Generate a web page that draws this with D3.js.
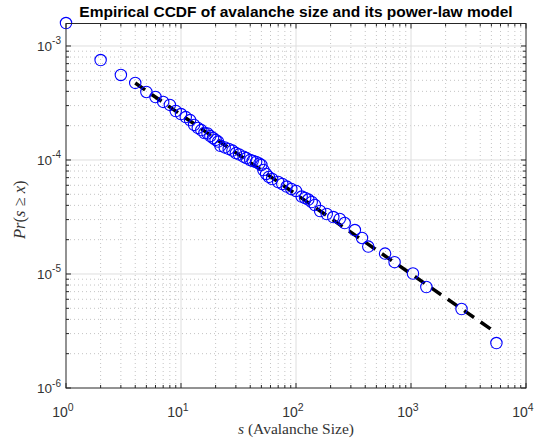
<!DOCTYPE html>
<html lang="en">
<head>
<meta charset="UTF-8">
<title>Empirical CCDF</title>
<script src="https://cdn.jsdelivr.net/npm/d3@7"></script>
<style>
  body { margin: 0; background: #fff; }
  svg { display: block; }
</style>
</head>
<body>
<div id="app"></div>
<script>
// avalanche sizes and empirical CCDF values
var sizes = [1, 2, 3, 4, 5, 6, 7, 8, 9, 10, 11, 12, 13, 14, 15, 16, 17, 18, 19, 20,
  21, 22, 24, 26, 28, 30, 32, 35, 37, 40, 42, 45, 48, 50, 52, 55, 58, 62, 70, 76,
  83, 91, 100, 112, 120, 128, 137, 146, 162, 185, 211, 240, 265, 325, 375, 425,
  595, 720, 1040, 1360, 2750, 5530];
var ccdf = [1.59e-3, 7.53e-4, 5.57e-4, 4.74e-4, 3.95e-4, 3.57e-4, 3.23e-4, 3.04e-4, 2.69e-4, 2.53e-4,
  2.38e-4, 2.24e-4, 2.03e-4, 1.91e-4, 1.83e-4, 1.725e-4, 1.71e-4, 1.62e-4, 1.56e-4, 1.50e-4,
  1.45e-4, 1.33e-4, 1.29e-4, 1.25e-4, 1.21e-4, 1.15e-4, 1.12e-4, 1.07e-4, 1.04e-4, 1.00e-4,
  9.8e-5, 9.6e-5, 9.3e-5, 9.04e-5, 8.17e-5, 7.54e-5, 7.10e-5, 6.81e-5, 6.41e-5, 6.16e-5,
  5.85e-5, 5.57e-5, 5.35e-5, 4.78e-5, 4.64e-5, 4.50e-5, 4.28e-5, 4.03e-5, 3.57e-5, 3.36e-5,
  3.16e-5, 3.04e-5, 2.80e-5, 2.43e-5, 2.07e-5, 1.74e-5, 1.51e-5, 1.27e-5, 1.01e-5, 7.69e-6,
  4.93e-6, 2.48e-6];

// fitted power-law model (straight in log-log), ends of the dashed line
var modelS = [4, 5530];
var modelP = [4.73e-4, 3.04e-6];

var xTicks = [1, 10, 100, 1000, 10000];
var xTickExp = ["0", "1", "2", "3", "4"];
var yTicks = [1e-6, 1e-5, 1e-4, 1e-3];
var yTickExp = ["-6", "-5", "-4", "-3"];
var xLimits = [1, 1e4];
var yLimits = [1e-6, 1.575e-3];

var width = 546, height = 441;
var margin = { left: 66, top: 23.5, right: 20, bottom: 53 };
var x0 = margin.left, x1 = width - margin.right;
var y0 = height - margin.bottom, y1 = margin.top;

var svg = d3.select("#app").append("svg")
  .attr("width", width).attr("height", height)
  .style("font-family", "'Liberation Sans', Arial, sans-serif");

var x = d3.scaleLog().domain(xLimits).range([x0, x1]);
var y = d3.scaleLog().domain(yLimits).range([y0, y1]);

// minor tick positions
function minors(lo, hi) {
  var out = [];
  for (var e = Math.floor(Math.log10(lo)); e < Math.ceil(Math.log10(hi)); e++) {
    for (var k = 2; k <= 9; k++) {
      var v = k * Math.pow(10, e);
      if (v > lo && v < hi) out.push(v);
    }
  }
  return out;
}
var xMinor = minors(xLimits[0], xLimits[1]);
var yMinor = minors(yLimits[0], yLimits[1]);

var grid = svg.append("g");
// minor grid, dotted
grid.selectAll(".xm").data(xMinor).enter().append("line")
  .attr("x1", d => x(d)).attr("x2", d => x(d)).attr("y1", y0).attr("y2", y1)
  .attr("stroke", "#c4c4c4").attr("stroke-width", 1).attr("stroke-dasharray", "1,3");
grid.selectAll(".ym").data(yMinor).enter().append("line")
  .attr("y1", d => y(d)).attr("y2", d => y(d)).attr("x1", x0).attr("x2", x1)
  .attr("stroke", "#c4c4c4").attr("stroke-width", 1).attr("stroke-dasharray", "1,3");
// major grid
grid.selectAll(".xM").data(xTicks.slice(1, -1)).enter().append("line")
  .attr("x1", d => x(d)).attr("x2", d => x(d)).attr("y1", y0).attr("y2", y1)
  .attr("stroke", "#dedede").attr("stroke-width", 1);
grid.selectAll(".yM").data(yTicks.slice(1)).enter().append("line")
  .attr("y1", d => y(d)).attr("y2", d => y(d)).attr("x1", x0).attr("x2", x1)
  .attr("stroke", "#dedede").attr("stroke-width", 1);

// ticks on all four sides, pointing in
var ticks = svg.append("g").attr("stroke", "#262626").attr("stroke-width", 1);
function tickSet(vals, len, horiz) {
  vals.forEach(function (v) {
    if (horiz) {
      ticks.append("line").attr("x1", x(v)).attr("x2", x(v)).attr("y1", y0).attr("y2", y0 - len);
      ticks.append("line").attr("x1", x(v)).attr("x2", x(v)).attr("y1", y1).attr("y2", y1 + len);
    } else {
      ticks.append("line").attr("y1", y(v)).attr("y2", y(v)).attr("x1", x0).attr("x2", x0 + len);
      ticks.append("line").attr("y1", y(v)).attr("y2", y(v)).attr("x1", x1).attr("x2", x1 - len);
    }
  });
}
tickSet(xTicks, 5, true);
tickSet(xMinor, 3, true);
tickSet(yTicks, 5, false);
tickSet(yMinor, 3, false);

// power-law model line
var line = d3.line().x(d => x(d[0])).y(d => y(d[1]));
svg.append("path")
  .datum(d3.zip(modelS, modelP))
  .attr("d", line)
  .attr("fill", "none")
  .attr("stroke", "#000")
  .attr("stroke-width", 3.5)
  .attr("stroke-dasharray", "12,8");

// empirical points
svg.append("g").selectAll("circle")
  .data(d3.zip(sizes, ccdf)).enter().append("circle")
  .attr("cx", d => x(d[0])).attr("cy", d => y(d[1]))
  .attr("r", 5.7)
  .attr("fill", "none")
  .attr("stroke", "#0000ff")
  .attr("stroke-width", 1.1);

// box
svg.append("rect")
  .attr("x", x0).attr("y", y1).attr("width", x1 - x0).attr("height", y0 - y1)
  .attr("fill", "none").attr("stroke", "#262626").attr("stroke-width", 1);

// tick labels
var xl = svg.append("g").attr("fill", "#333").attr("font-size", 14);
xTicks.forEach(function (v, i) {
  var t = xl.append("text").attr("x", x(v) - 3).attr("y", y0 + 29).attr("text-anchor", "middle");
  t.append("tspan").text("10");
  t.append("tspan").attr("dy", -6.5).attr("font-size", 10.5).text(xTickExp[i]);
});
var yl = svg.append("g").attr("fill", "#333").attr("font-size", 13.5);
yTicks.forEach(function (v, i) {
  var t = yl.append("text").attr("x", x0 - 5).attr("y", y(v) + 5).attr("text-anchor", "end");
  t.append("tspan").text("10");
  t.append("tspan").attr("dy", -6.5).attr("font-size", 10).text(yTickExp[i]);
});

// title
svg.append("text")
  .attr("x", (x0 + x1) / 2).attr("y", 17)
  .attr("text-anchor", "middle")
  .attr("font-weight", "bold").attr("font-size", 15.5).attr("fill", "#000")
  .text("Empirical CCDF of avalanche size and its power-law model");

// axis labels (latex-ish)
var xlab = svg.append("text")
  .attr("x", (x0 + x1) / 2).attr("y", 434)
  .attr("text-anchor", "middle")
  .attr("font-family", "'Liberation Serif', 'DejaVu Serif', serif")
  .attr("font-size", 15.5).attr("fill", "#333");
xlab.append("tspan").attr("font-style", "italic").text("s");
xlab.append("tspan").text(" (Avalanche Size)");

var ylab = svg.append("text")
  .attr("transform", "translate(25," + ((y0 + y1) / 2 + 4) + ") rotate(-90)")
  .attr("text-anchor", "middle")
  .attr("font-family", "'Liberation Serif', 'DejaVu Serif', serif")
  .attr("font-size", 16.5).attr("fill", "#333");
ylab.append("tspan").attr("font-style", "italic").text("Pr");
ylab.append("tspan").text("(");
ylab.append("tspan").attr("font-style", "italic").text("s");
ylab.append("tspan").text(" \u2265 ");
ylab.append("tspan").attr("font-style", "italic").text("x");
ylab.append("tspan").text(")");
</script>
</body>
</html>
